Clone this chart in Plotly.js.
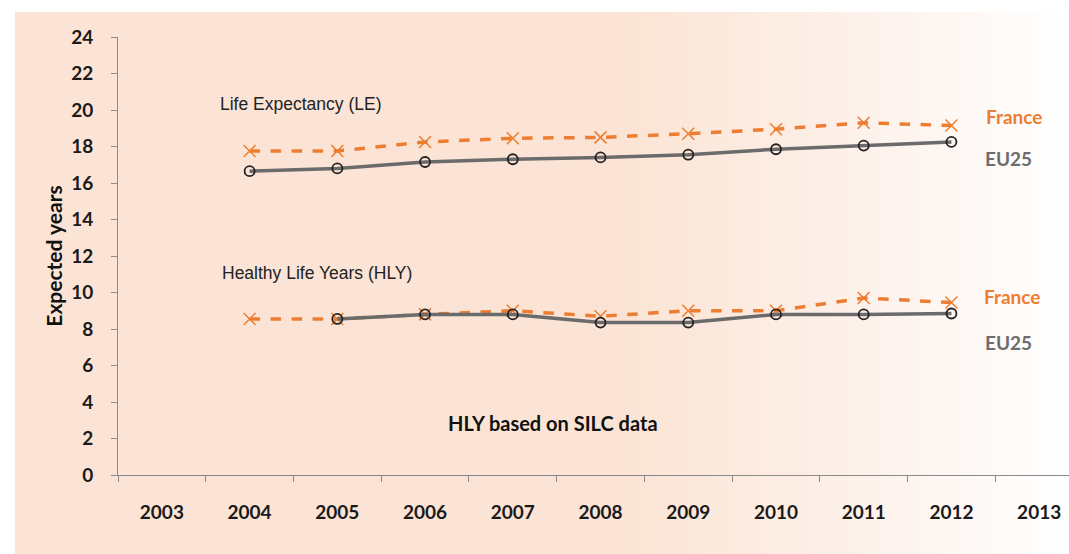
<!DOCTYPE html>
<html>
<head>
<meta charset="utf-8">
<script src="https://cdn.plot.ly/plotly-3.0.1.min.js"></script>
<style>
  body { margin:0; background:#fff; }
  #wrap { position:relative; width:1069px; height:554px; background:#fff; }
  #bg { position:absolute; left:15px; top:12px; right:0; bottom:0;
        background:linear-gradient(to right,#fbe4d5 0%,#fbe4d5 58%,#fdf1ea 80%,#ffffff 100%); }
  #chart { position:absolute; left:0; top:0; width:1069px; height:554px; }
</style>
</head>
<body>
<div id="wrap"><div id="bg"></div><div id="chart"></div></div>
<script>
// Life expectancy vs healthy life years, France and EU25
const years = ['2003','2004','2005','2006','2007','2008','2009','2010','2011','2012','2013'];
const dataYears = ['2004','2005','2006','2007','2008','2009','2010','2011','2012'];

const leFrance = [17.75, 17.75, 18.25, 18.45, 18.5, 18.7, 18.95, 19.3, 19.15];
const leEU25   = [16.65, 16.8, 17.15, 17.3, 17.4, 17.55, 17.85, 18.05, 18.25];
const hlyFrance = [8.55, 8.55, 8.8, 9.0, 8.7, 9.0, 9.0, 9.7, 9.45];
const hlyEU25   = [null, 8.55, 8.8, 8.8, 8.35, 8.35, 8.8, 8.8, 8.85];

const ORANGE = '#ed7d31';
const GREY = '#6b6b6b';

const franceStyle = {
  mode:'lines+markers', line:{color:ORANGE, width:3.5, dash:'dash'},
  marker:{symbol:'x-thin-open', size:12, line:{color:'#e4643f', width:1.5}}
};
const euStyle = {
  mode:'lines+markers', line:{color:GREY, width:3.5},
  marker:{symbol:'circle-open', size:10, color:'#222', line:{color:'#222', width:1.8}}
};

const traces = [
  {x:dataYears, y:leFrance, ...franceStyle, name:'France LE'},
  {x:dataYears, y:leEU25, ...euStyle, name:'EU25 LE'},
  {x:dataYears, y:hlyFrance, ...franceStyle, name:'France HLY'},
  {x:dataYears, y:hlyEU25, ...euStyle, name:'EU25 HLY', connectgaps:false}
];

const FONT = 'Lato, "Open Sans", sans-serif';
const tickFont = {family:FONT, size:19, color:'#1a1a1a', weight:'bold'};

function note(text, x, y, opts) {
  return Object.assign({xref:'paper', yref:'paper', x:x, y:y, text:text, showarrow:false,
    xanchor:'left', yanchor:'middle',
    font:{family:'Liberation Sans, Arial, sans-serif', size:17.5, color:'#222'}}, opts || {});
}
// paper coords: plot spans x 118..1069, y 37..475
const px = v => (v - 118) / 951;
const py = v => (475 - v) / 438;

const layout = {
  width:1069, height:554,
  paper_bgcolor:'rgba(0,0,0,0)', plot_bgcolor:'rgba(0,0,0,0)',
  margin:{l:118, r:0, t:37, b:79},
  showlegend:false,
  xaxis:{
    type:'category', categoryorder:'array', categoryarray:years,
    range:[-0.5, 10.34], tickson:'boundaries', ticks:'outside', ticklen:6,
    tickcolor:'#8a8a8a', showline:true, linecolor:'#8a8a8a', linewidth:1,
    showgrid:false, zeroline:false, tickfont:tickFont, ticklabelstandoff:20, fixedrange:true
  },
  yaxis:{
    range:[0, 24], dtick:2, ticks:'outside', ticklen:6, tickcolor:'#8a8a8a',
    showline:true, linecolor:'#8a8a8a', linewidth:1, showgrid:false, zeroline:false,
    tickfont:tickFont, ticklabelstandoff:14,
    title:{text:'Expected years', standoff:2,
      font:{family:FONT, size:21, color:'#111', weight:'bold'}}
  },
  annotations:[
    note('Life Expectancy (LE)', px(218), py(104)),
    note('Healthy Life Years (HLY)', px(220), py(273)),
    note('France', px(984), py(116), {font:{family:FONT, size:19, color:ORANGE, weight:'bold'}}),
    note('EU25', px(983), py(158), {font:{family:FONT, size:19, color:'#6d6d6d', weight:'bold'}}),
    note('France', px(982), py(296), {font:{family:FONT, size:19, color:ORANGE, weight:'bold'}}),
    note('EU25', px(983), py(342), {font:{family:FONT, size:19, color:'#6d6d6d', weight:'bold'}}),
    note('HLY based on SILC data', px(446), py(423), {font:{family:FONT, size:20, color:'#111', weight:'bold'}})
  ]
};

Plotly.newPlot('chart', traces, layout, {displayModeBar:false, staticPlot:true});
</script>
</body>
</html>
